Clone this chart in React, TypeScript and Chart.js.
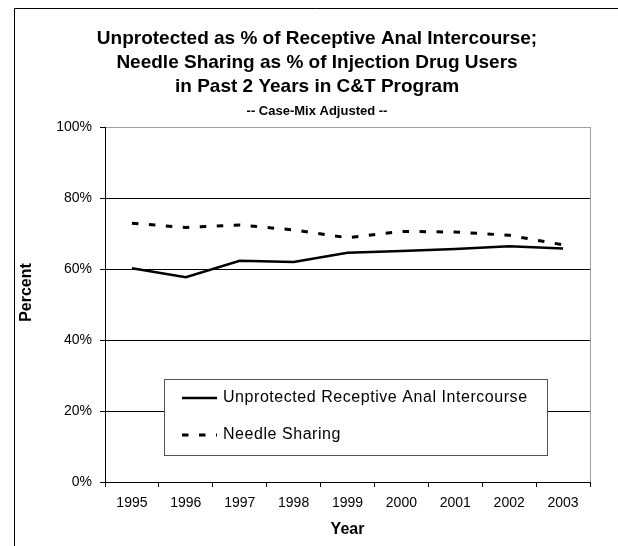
import React, { useEffect, useRef } from "react";
import { Chart, registerables } from "chart.js";

Chart.register(...registerables);

const years = ["1995", "1996", "1997", "1998", "1999", "2000", "2001", "2002", "2003"];
const unprotectedRAI = [60.2, 57.7, 62.3, 62.0, 64.6, 65.1, 65.6, 66.4, 65.8];
const needleSharing = [72.9, 71.7, 72.4, 71.0, 68.8, 70.6, 70.4, 69.5, 66.8];
const seriesLabels = ["Unprotected Receptive Anal Intercourse", "Needle Sharing"];
const titleLines = [
  "Unprotected as % of Receptive Anal Intercourse;",
  "Needle Sharing as % of Injection Drug Users",
  "in Past 2 Years in C&T Program",
];
const subtitleText = "-- Case-Mix Adjusted --";
const yAxisTitle = "Percent";
const xAxisTitle = "Year";

const FONT = "'Liberation Sans', Arial, Helvetica, sans-serif";

const decorPlugin = {
  id: "decor",
  beforeDraw(chart: any) {
    const ctx = chart.ctx;
    const { width, height } = chart;
    ctx.save();
    ctx.fillStyle = "#fff";
    ctx.fillRect(0, 0, width, height);
    // outer frame (left and top visible)
    ctx.strokeStyle = "#000";
    ctx.lineWidth = 1;
    ctx.beginPath();
    ctx.moveTo(14.5, height + 2);
    ctx.lineTo(14.5, 8.5);
    ctx.lineTo(width + 2, 8.5);
    ctx.stroke();
    ctx.restore();
  },
  afterDraw(chart: any) {
    const ctx = chart.ctx;
    const area = chart.chartArea;
    ctx.save();
    // plot area right border (gray)
    ctx.strokeStyle = "#a0a0a0";
    ctx.lineWidth = 1;
    ctx.beginPath();
    ctx.moveTo(Math.round(area.right) + 0.5, area.top);
    ctx.lineTo(Math.round(area.right) + 0.5, area.bottom);
    ctx.stroke();

    // titles
    ctx.fillStyle = "#000";
    ctx.textAlign = "center";
    ctx.textBaseline = "middle";
    ctx.font = `bold 19px ${FONT}`;
    const tx = 317;
    titleLines.forEach((t, i) => ctx.fillText(t, tx, 39 + i * 24));
    ctx.font = `bold 13px ${FONT}`;
    ctx.fillText(subtitleText, tx, 111);

    // axis titles
    ctx.font = `bold 16px ${FONT}`;
    ctx.fillText(xAxisTitle, (area.left + area.right) / 2, 530);
    ctx.save();
    ctx.translate(27, (area.top + area.bottom) / 2 - 12);
    ctx.rotate(-Math.PI / 2);
    ctx.fillText(yAxisTitle, 0, 0);
    ctx.restore();

    // legend box
    const bx = 164.5, by = 379.5, bw = 383, bh = 76;
    ctx.fillStyle = "#fff";
    ctx.fillRect(bx, by, bw, bh);
    ctx.strokeStyle = "#555";
    ctx.lineWidth = 1;
    ctx.strokeRect(bx, by, bw, bh);
    const rows = [398, 435];
    chart.data.datasets.forEach((ds: any, i: number) => {
      const y = rows[i];
      ctx.strokeStyle = ds.borderColor;
      ctx.lineWidth = ds.borderWidth;
      ctx.setLineDash(ds.borderDash || []);
      ctx.beginPath();
      ctx.moveTo(182, y);
      ctx.lineTo(217, y);
      ctx.stroke();
      ctx.setLineDash([]);
      ctx.fillStyle = "#000";
      ctx.textAlign = "left";
      ctx.textBaseline = "middle";
      ctx.font = `16px ${FONT}`;
      try {
        (ctx as any).letterSpacing = "0.55px";
      } catch (e) {}
      ctx.fillText(ds.label, 223, y);
      try {
        (ctx as any).letterSpacing = "0px";
      } catch (e) {}
    });
    ctx.restore();
  },
};

export default function App() {
  const ref = useRef<HTMLCanvasElement>(null);
  useEffect(() => {
    document.body.style.margin = "0";
    const chart = new Chart(ref.current as HTMLCanvasElement, {
      type: "line",
      data: {
        labels: years,
        datasets: [
          {
            label: seriesLabels[0],
            data: unprotectedRAI,
            borderColor: "#000",
            borderWidth: 2.5,
            pointRadius: 0,
            tension: 0,
            fill: false,
          },
          {
            label: seriesLabels[1],
            data: needleSharing,
            borderColor: "#000",
            borderWidth: 3,
            borderDash: [6.5, 10.5],
            pointRadius: 0,
            tension: 0,
            fill: false,
          },
        ],
      },
      options: {
        animation: false,
        responsive: false,
        devicePixelRatio: 1,
        layout: { padding: { top: 127, right: 28, left: 0, bottom: 0 } },
        plugins: {
          legend: { display: false },
          title: { display: false },
          tooltip: { enabled: false },
        },
        scales: {
          x: {
            type: "category",
            offset: true,
            grid: {
              offset: true,
              drawOnChartArea: false,
              drawTicks: true,
              tickLength: 5,
              color: "#000",
            },
            border: { color: "#000", width: 1 },
            ticks: {
              color: "#000",
              font: { family: FONT, size: 14 },
              padding: 8,
              maxRotation: 0,
              autoSkip: false,
            },
            afterFit: (s: any) => {
              s.height = 64;
            },
          },
          y: {
            min: 0,
            max: 100,
            grid: {
              color: (c: any) => (c.tick && c.tick.value === 100 ? "#a0a0a0" : "#000"),
              tickColor: "#000",
              tickLength: 5,
              drawTicks: true,
            },
            border: { color: "#000", width: 1 },
            ticks: {
              stepSize: 20,
              color: "#000",
              font: { family: FONT, size: 14 },
              padding: 8,
              callback: (v: any) => v + "%",
            },
            afterFit: (s: any) => {
              s.width = 105;
            },
          },
        },
      },
      plugins: [decorPlugin],
    });
    return () => chart.destroy();
  }, []);
  return (
    <div style={{ position: "absolute", left: 0, top: 0, width: 618, height: 546 }}>
      <canvas ref={ref} width={618} height={546} style={{ width: 618, height: 546, display: "block" }} />
    </div>
  );
}
